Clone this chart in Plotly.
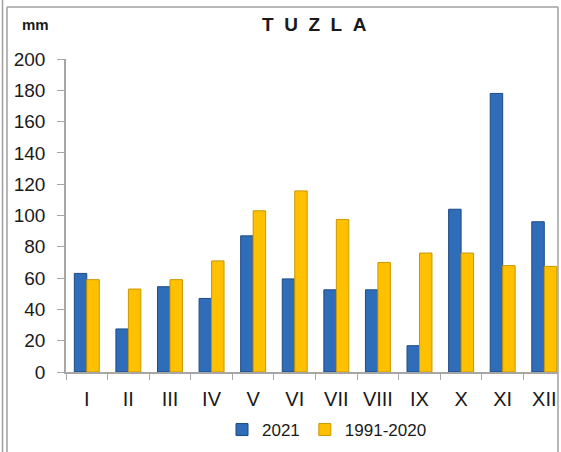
import plotly.graph_objects as go

# ─── Data ─────────────────────────────────────────────────────────────────────
months = ["I", "II", "III", "IV", "V", "VI", "VII", "VIII", "IX", "X", "XI", "XII"]
precip_2021 = [63, 27.5, 54.5, 47, 87, 59.5, 52.5, 52.5, 16.8, 104, 178, 96]
precip_normal = [59, 53, 59, 71, 103, 115.7, 97.5, 70, 76, 76, 68, 67.5]

BLUE = "#2f6db8"
BLUE_EDGE = "#1d4a85"
GOLD = "#ffc000"
GOLD_EDGE = "#c99700"
AXIS_GRAY = "#a6a6a6"
TEXT = "#1a1a1a"
FONT = "Liberation Sans, Arial, sans-serif"

W, H = 561, 452
L, R, T, B = 66, 3, 59, 80
PW, PH = W - L - R, H - T - B


def px_x(x):
    return (x - L) / PW


def px_y(y):
    return (H - B - y) / PH


fig = go.Figure()
fig.add_trace(go.Bar(
    x=months, y=precip_2021, name="2021",
    marker=dict(color=BLUE, line=dict(color=BLUE_EDGE, width=1)),
))
fig.add_trace(go.Bar(
    x=months, y=precip_normal, name="1991-2020",
    marker=dict(color=GOLD, line=dict(color=GOLD_EDGE, width=1)),
))

# frame lines (double line on the left, top and right edge)
frame = [
    (2.5, 0, 2.5, H), (7, 7, 7, H), (7, 7, 558, 7), (558, 7, 558, H),
]
shapes = []
for x0, y0, x1, y1 in frame:
    shapes.append(dict(type="line", xref="paper", yref="paper",
                       x0=px_x(x0), x1=px_x(x1), y0=px_y(y0), y1=px_y(y1),
                       line=dict(color="#a0a0a0", width=1.5)))

fig.update_layout(
    width=W, height=H,
    margin=dict(l=L, r=R, t=T, b=B),
    paper_bgcolor="white", plot_bgcolor="white",
    font=dict(family=FONT, color=TEXT, size=19),
    barmode="group", bargap=0.4, bargroupgap=0,
    showlegend=True,
    legend=dict(orientation="h", x=px_x(222), y=px_y(448), xanchor="left", yanchor="bottom",
                font=dict(size=17), itemwidth=30, bgcolor="rgba(0,0,0,0)"),
    shapes=shapes,
    annotations=[
        dict(text="<b>T\u00a0\u00a0U\u00a0\u00a0Z\u00a0\u00a0L\u00a0\u00a0A</b>", xref="paper", yref="paper",
             x=px_x(314), y=px_y(25), xanchor="center", yanchor="middle",
             showarrow=False, font=dict(size=19, color=TEXT)),
        dict(text="<b>mm</b>", xref="paper", yref="paper",
             x=px_x(35), y=px_y(25), xanchor="center", yanchor="middle",
             showarrow=False, font=dict(size=15, color=TEXT)),
    ],
)
fig.update_xaxes(
    range=[-0.5, 11.33], showline=True, linecolor=AXIS_GRAY, linewidth=1.5,
    ticks="outside", tickson="boundaries", ticklen=6, tickcolor=AXIS_GRAY,
    showgrid=False, zeroline=False, ticklabelstandoff=8, tickfont=dict(size=20),
)
fig.update_yaxes(
    range=[0, 200], dtick=20, showline=True, linecolor=AXIS_GRAY, linewidth=1.5,
    ticks="outside", ticklen=7, tickcolor=AXIS_GRAY,
    showgrid=False, zeroline=False, ticklabelstandoff=8,
)

# drop the page's default body margin so the figure sits at the window's corner
fig.write_html("out.html", config={"displayModeBar": False},
               post_script="document.body.style.margin='0';")
